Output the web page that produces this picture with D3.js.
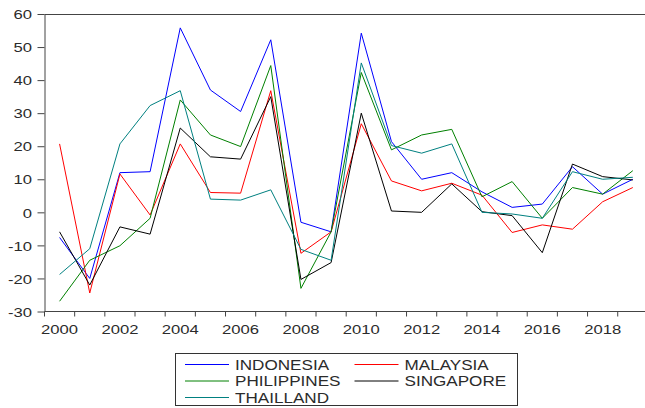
<!DOCTYPE html>
<html>
<head>
<meta charset="utf-8">
<script src="https://cdn.jsdelivr.net/npm/d3@7"></script>
<style>
  html, body { margin: 0; padding: 0; background: #fff; }
  svg { display: block; }
  text { font-family: Arial, "Liberation Sans", sans-serif; fill: #2b2b2b; }
</style>
</head>
<body>
<svg id="chart" width="645" height="408"></svg>
<script>
const years = d3.range(2000, 2020);
const indonesia   = [-7.6, -20, 12, 12.3, 55.8, 37, 30.5, 52.2, -3.0, -5.9, 54.2, 21.4, 10, 12, 6.2, 1.5, 2.5, 13.8, 5.5, 10];
const malaysia    = [20.7, -24.4, 11.6, -0.8, 20.7, 6.0, 5.8, 36.8, -12.4, -5.9, 26.8, 9.5, 6.5, 8.8, 5.2, -6.1, -3.8, -5.1, 3.2, 7.5];
const philippines = [-26.9, -14.5, -10.1, -1.8, 34.0, 23.4, 19.9, 44.4, -23, -5.9, 42.3, 18.9, 23.4, 25.1, 4.7, 9.3, -1.8, 7.5, 5.5, 12.6];
const singapore   = [-5.9, -22, -4.4, -6.6, 25.5, 16.8, 16.1, 35, -20.3, -15.2, 30, 0.4, 0, 8.6, 0.2, -1.0, -12.2, 14.6, 10.8, 9.8];
const thailand    = [-18.8, -11, 20.7, 32.3, 36.8, 4.0, 3.7, 6.8, -11.2, -14.5, 45.2, 20.2, 17.9, 20.7, 0, -0.5, -1.8, 12.3, 10, 10.6];
const seriesNames = ["INDONESIA", "MALAYSIA", "PHILIPPINES", "SINGAPORE", "THAILLAND"];
const seriesColors = ["#0000ff", "#ff0000", "#008000", "#000000", "#008080"];
const seriesValues = [indonesia, malaysia, philippines, singapore, thailand];
const yTicks = [-30, -20, -10, 0, 10, 20, 30, 40, 50, 60];
const xLabelYears = [2000, 2002, 2004, 2006, 2008, 2010, 2012, 2014, 2016, 2018];

const svg = d3.select("#chart");
const mLeft = 44.5, mTop = 14, mBottom = 311.5, bandW = 30.17;
const x = d3.scaleBand().domain(years).range([mLeft, mLeft + years.length * bandW]).padding(0);
const y = d3.scaleLinear().domain([-30, 60]).range([mBottom, mTop]);
const axisColor = "#444";
const sx = 1.28;

// top frame line
svg.append("line").attr("x1", mLeft).attr("x2", 645).attr("y1", mTop + 0.5).attr("y2", mTop + 0.5)
  .attr("stroke", axisColor).attr("stroke-width", 1.2);

// Y axis
const yAxis = svg.append("g").attr("transform", `translate(${mLeft},0)`)
  .call(d3.axisLeft(y).tickValues(yTicks).tickSize(7).tickSizeOuter(0).tickFormat(d => String(d)));
yAxis.select(".domain").attr("stroke", axisColor);
yAxis.selectAll(".tick line").attr("stroke", axisColor);
yAxis.selectAll(".tick text").attr("x", 0).attr("dy", "0.36em")
  .attr("transform", `translate(-12.5,0) scale(${sx},1)`)
  .style("font-size", "13px").style("fill", "#2b2b2b");

// X axis: ticks at band boundaries, labels at band centers
const boundaries = d3.range(years.length + 1).map(i => mLeft + i * bandW);
const xg = svg.append("g");
xg.append("line").attr("x1", mLeft).attr("x2", 645).attr("y1", mBottom).attr("y2", mBottom)
  .attr("stroke", axisColor);
xg.selectAll("line.tk").data(boundaries).join("line").attr("class", "tk")
  .attr("x1", d => d).attr("x2", d => d).attr("y1", mBottom).attr("y2", mBottom + 5)
  .attr("stroke", axisColor);
xg.selectAll("text").data(xLabelYears).join("text")
  .attr("transform", d => `translate(${x(d) + x.bandwidth() / 2},333.5) scale(${sx},1)`)
  .attr("text-anchor", "middle").style("font-size", "13px").text(d => d);

// lines
const line = d3.line().x((d, i) => x(years[i]) + x.bandwidth() / 2).y(d => y(d));
seriesValues.forEach((vals, k) => {
  svg.append("path").datum(vals).attr("d", line).attr("fill", "none")
    .attr("stroke", seriesColors[k]).attr("stroke-width", 1).attr("stroke-linejoin", "miter");
});

// legend
const lg = svg.append("g");
lg.append("rect").attr("x", 175.5).attr("y", 353.5).attr("width", 342).attr("height", 52)
  .attr("fill", "#fff").attr("stroke", "#333").attr("stroke-width", 1);
const colX = [185, 354.5], rowY = [364.5, 381, 397.5];
seriesNames.forEach((name, k) => {
  const cx = colX[k % 2], cy = rowY[Math.floor(k / 2)];
  lg.append("line").attr("x1", cx).attr("x2", cx + 44).attr("y1", cy).attr("y2", cy)
    .attr("stroke", seriesColors[k]).attr("stroke-width", 1);
  lg.append("text").attr("transform", `translate(${cx + 50},${cy + 5.3}) scale(1.18,1)`)
    .style("font-size", "14.5px").text(name);
});
</script>
</body>
</html>
